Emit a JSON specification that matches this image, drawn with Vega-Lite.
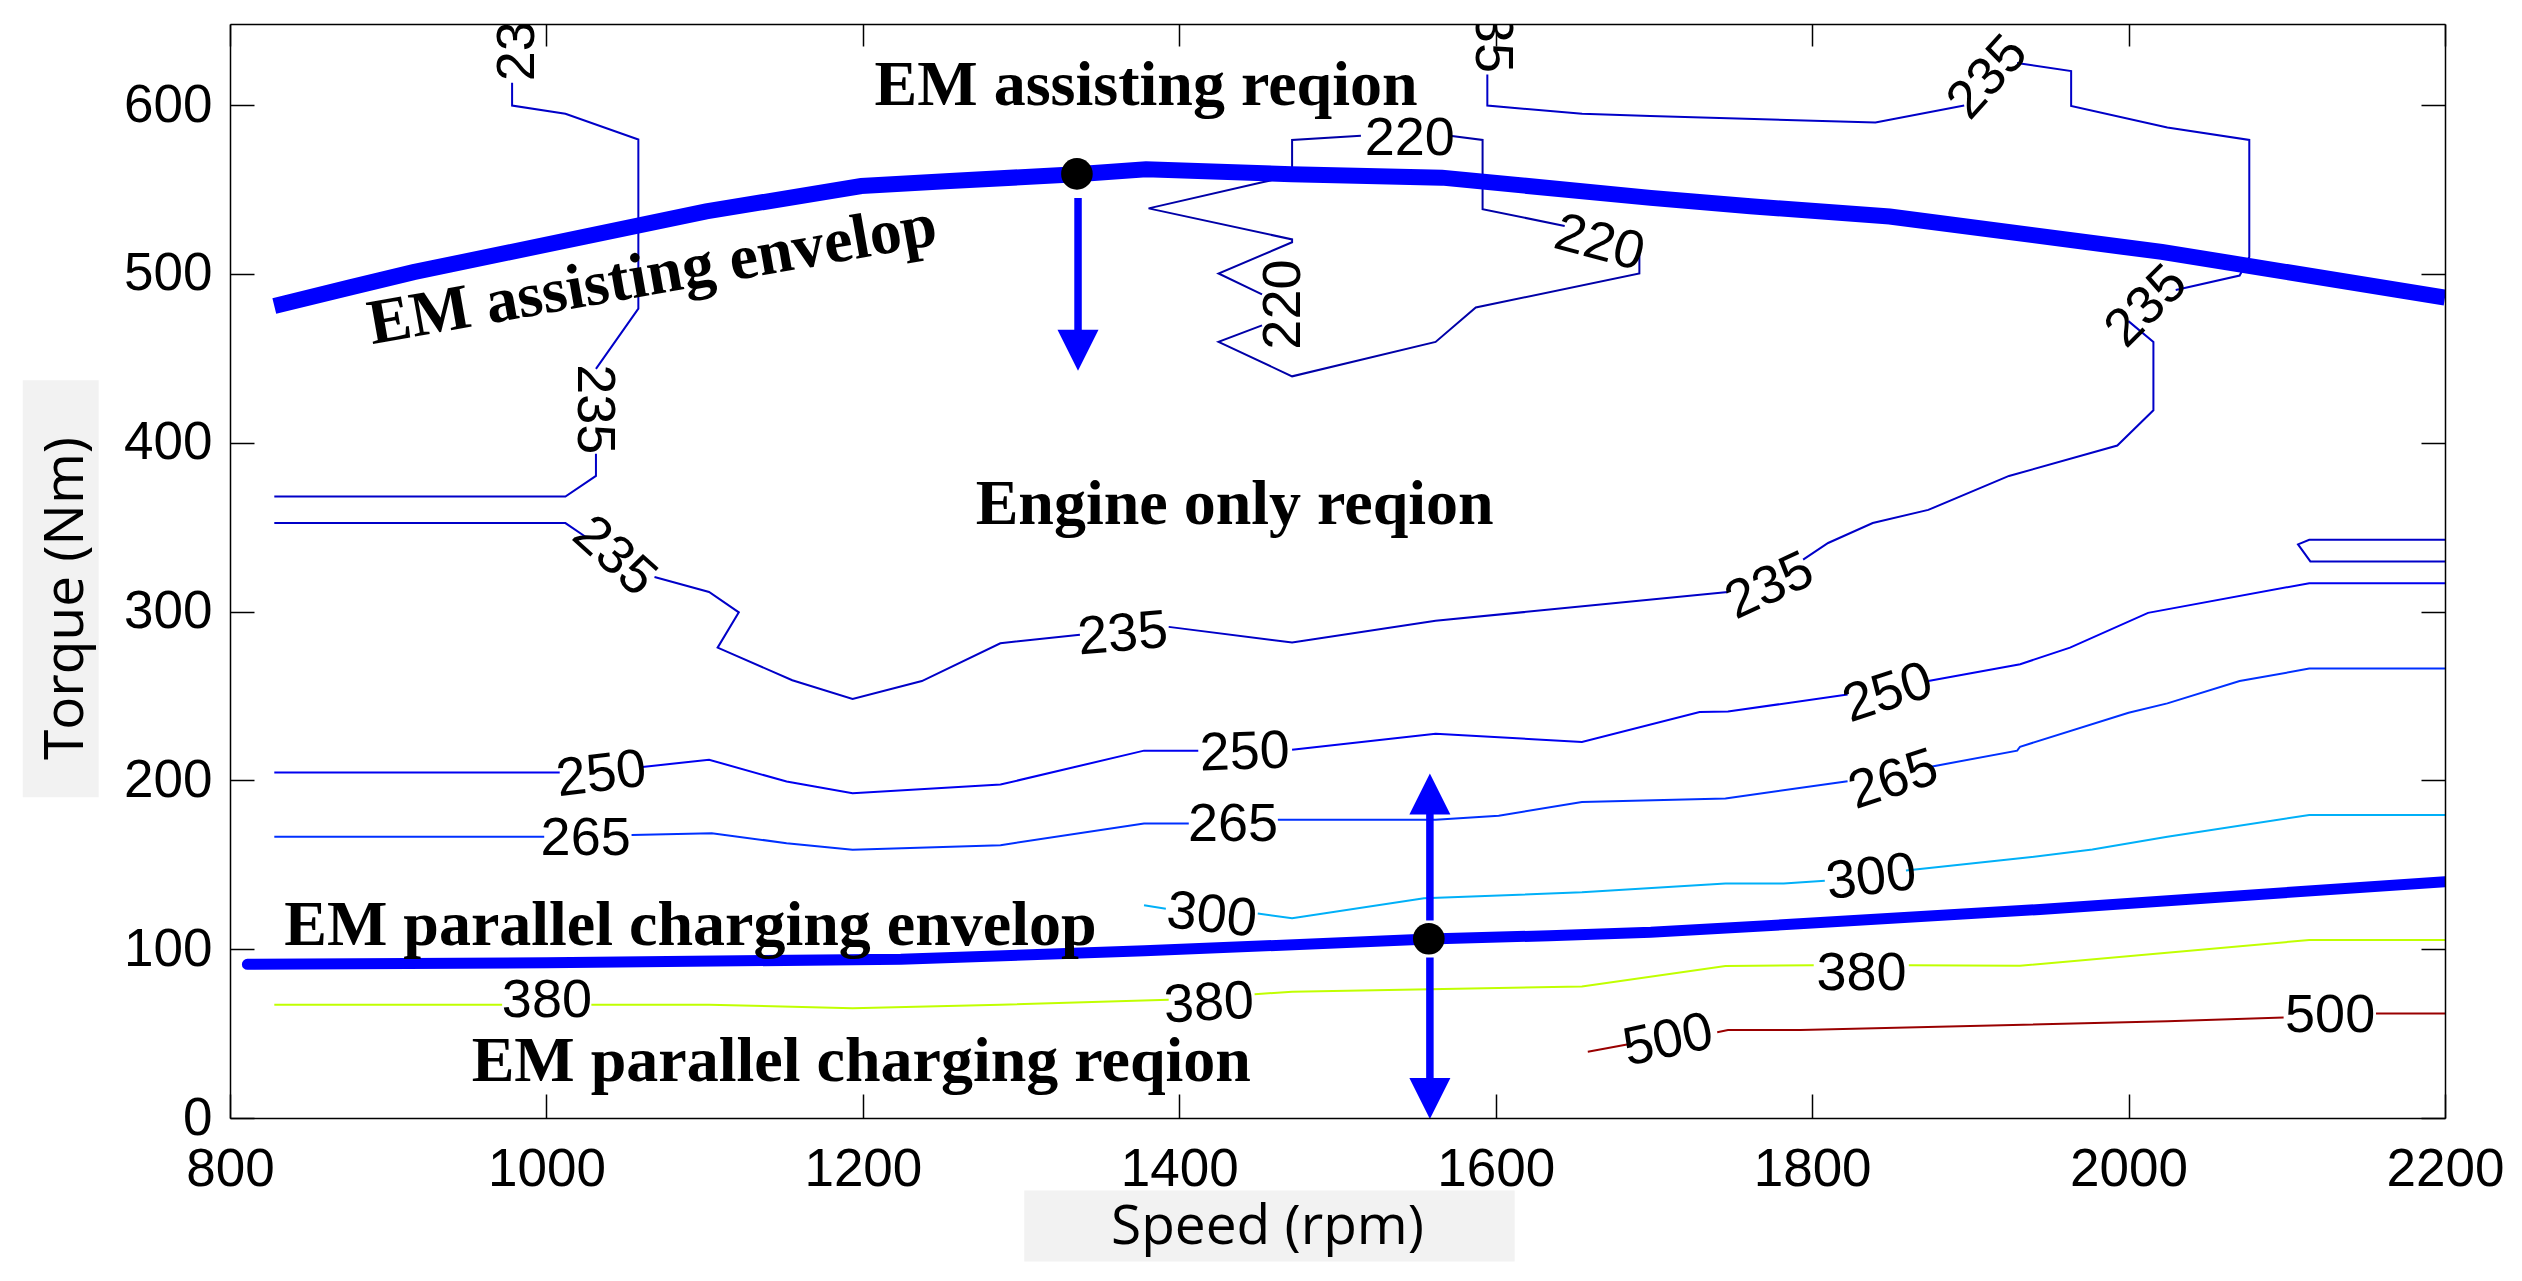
{
"$schema":"https://vega.github.io/schema/vega-lite/v6.json",
"width":2215,"height":1094,
"autosize":"none",
"padding":{"left":230,"top":24,"right":77,"bottom":163},
"background":"white",
"config":{"view":{"stroke":null},"axis":{"grid":false}},
"resolve":{"axis":{"x":"independent","y":"independent"}},
"datasets":{
"boxes":[{"x":669,"x2":717,"y":190,"y2":437},{"x":1302,"x2":1612,"y":-43,"y2":-85}],
"c":[
{"s":"220a","l":"220","o":1,"x":1571,"y":581.8},
{"s":"220a","l":"220","o":2,"x":1591.7,"y":579.3},
{"s":"220a","l":"220","o":3,"x":1591.7,"y":538.3},
{"s":"220a","l":"220","o":4,"x":1643.6,"y":528.4},
{"s":"220b","l":"220","o":1,"x":1690.8,"y":513.7},
{"s":"220b","l":"220","o":2,"x":1690.8,"y":500.2},
{"s":"220b","l":"220","o":3,"x":1587.4,"y":480.1},
{"s":"220b","l":"220","o":4,"x":1562,"y":459.7},
{"s":"220b","l":"220","o":5,"x":1471.3,"y":439.3},
{"s":"220b","l":"220","o":6,"x":1424.8,"y":459.7},
{"s":"220b","l":"220","o":7,"x":1452.3,"y":469.5},
{"s":"220c","l":"220","o":1,"x":1452.3,"y":487.9},
{"s":"220c","l":"220","o":2,"x":1424.8,"y":500.2},
{"s":"220c","l":"220","o":3,"x":1471.3,"y":518.7},
{"s":"220c","l":"220","o":4,"x":1471.3,"y":520.4},
{"s":"220c","l":"220","o":5,"x":1380.6,"y":538.8},
{"s":"220c","l":"220","o":6,"x":1452.5,"y":554.3},
{"s":"220c","l":"220","o":7,"x":1471.3,"y":558},
{"s":"220c","l":"220","o":8,"x":1471.3,"y":579.3},
{"s":"220c","l":"220","o":9,"x":1514.8,"y":581.8},
{"s":"235a","l":"235","o":1,"x":978.3,"y":613.2},
{"s":"235a","l":"235","o":2,"x":978.3,"y":599.7},
{"s":"235a","l":"235","o":3,"x":1012,"y":594.8},
{"s":"235a","l":"235","o":4,"x":1058.1,"y":579.6},
{"s":"235a","l":"235","o":5,"x":1058.1,"y":479.4},
{"s":"235a","l":"235","o":6,"x":1031.3,"y":443.7},
{"s":"235b","l":"235","o":1,"x":1031.3,"y":393.4},
{"s":"235b","l":"235","o":2,"x":1031.3,"y":380.3},
{"s":"235b","l":"235","o":3,"x":1012,"y":368.1},
{"s":"235b","l":"235","o":4,"x":828,"y":368.1},
{"s":"235c","l":"235","o":1,"x":828,"y":352.4},
{"s":"235c","l":"235","o":2,"x":1012,"y":352.4},
{"s":"235c","l":"235","o":3,"x":1024.7,"y":344.3},
{"s":"235d","l":"235","o":1,"x":1068.3,"y":320.4},
{"s":"235d","l":"235","o":2,"x":1102.8,"y":311.6},
{"s":"235d","l":"235","o":3,"x":1121.6,"y":299.5},
{"s":"235d","l":"235","o":4,"x":1108.2,"y":278.6},
{"s":"235d","l":"235","o":5,"x":1155.4,"y":259.3},
{"s":"235d","l":"235","o":6,"x":1193.5,"y":248.2},
{"s":"235d","l":"235","o":7,"x":1237.3,"y":258.8},
{"s":"235d","l":"235","o":8,"x":1286.9,"y":281.2},
{"s":"235d","l":"235","o":9,"x":1337.2,"y":286.3},
{"s":"235e","l":"235","o":1,"x":1393.3,"y":290.9},
{"s":"235e","l":"235","o":2,"x":1471.3,"y":281.6},
{"s":"235e","l":"235","o":3,"x":1562,"y":294.5},
{"s":"235e","l":"235","o":4,"x":1746.8,"y":311.6},
{"s":"235f","l":"235","o":1,"x":1794.3,"y":330.7},
{"s":"235f","l":"235","o":2,"x":1810.1,"y":340.6},
{"s":"235f","l":"235","o":3,"x":1838.3,"y":352.4},
{"s":"235f","l":"235","o":4,"x":1873.4,"y":360.2},
{"s":"235f","l":"235","o":5,"x":1924.4,"y":380.3},
{"s":"235f","l":"235","o":6,"x":1992.9,"y":398.3},
{"s":"235f","l":"235","o":7,"x":2015.7,"y":419.2},
{"s":"235f","l":"235","o":8,"x":2015.7,"y":459.7},
{"s":"235f","l":"235","o":9,"x":1999.9,"y":472},
{"s":"235g","l":"235","o":1,"x":2029.8,"y":490.4},
{"s":"235g","l":"235","o":2,"x":2070.2,"y":499},
{"s":"235g","l":"235","o":3,"x":2076.3,"y":510},
{"s":"235g","l":"235","o":4,"x":2076.3,"y":579.3},
{"s":"235g","l":"235","o":5,"x":2024.5,"y":586.7},
{"s":"235g","l":"235","o":6,"x":1963.7,"y":599.5},
{"s":"235g","l":"235","o":7,"x":1963.7,"y":620.1},
{"s":"235g","l":"235","o":8,"x":1929.5,"y":624.9},
{"s":"235h","l":"235","o":1,"x":1896.1,"y":599.7},
{"s":"235h","l":"235","o":2,"x":1840,"y":589.6},
{"s":"235h","l":"235","o":3,"x":1697.6,"y":593.5},
{"s":"235h","l":"235","o":4,"x":1654.6,"y":594.8},
{"s":"235h","l":"235","o":5,"x":1594.7,"y":599.7},
{"s":"235h","l":"235","o":6,"x":1594.7,"y":618.1},
{"s":"235i","l":"235","o":1,"x":2200,"y":342.5},
{"s":"235i","l":"235","o":2,"x":2114.2,"y":342.5},
{"s":"235i","l":"235","o":3,"x":2107.1,"y":339.8},
{"s":"235i","l":"235","o":4,"x":2114.9,"y":329.7},
{"s":"235i","l":"235","o":5,"x":2200,"y":329.7},
{"s":"250a","l":"250","o":1,"x":828,"y":204.7},
{"s":"250a","l":"250","o":2,"x":1008.4,"y":204.7},
{"s":"250b","l":"250","o":1,"x":1059.2,"y":207.8},
{"s":"250b","l":"250","o":2,"x":1102.8,"y":212.2},
{"s":"250b","l":"250","o":3,"x":1151.8,"y":199.3},
{"s":"250b","l":"250","o":4,"x":1193.5,"y":192.4},
{"s":"250b","l":"250","o":5,"x":1287,"y":197.5},
{"s":"250b","l":"250","o":6,"x":1377.7,"y":217.6},
{"s":"250b","l":"250","o":7,"x":1412,"y":217.6},
{"s":"250c","l":"250","o":1,"x":1471.3,"y":218.1},
{"s":"250c","l":"250","o":2,"x":1562,"y":227.6},
{"s":"250c","l":"250","o":3,"x":1654.5,"y":222.7},
{"s":"250c","l":"250","o":4,"x":1728.9,"y":240.5},
{"s":"250c","l":"250","o":5,"x":1746.8,"y":240.8},
{"s":"250c","l":"250","o":6,"x":1822.4,"y":250.8},
{"s":"250d","l":"250","o":1,"x":1873.4,"y":258.8},
{"s":"250d","l":"250","o":2,"x":1931.5,"y":268.8},
{"s":"250d","l":"250","o":3,"x":1963,"y":278.6},
{"s":"250d","l":"250","o":4,"x":2012.3,"y":299.2},
{"s":"250d","l":"250","o":5,"x":2114.2,"y":316.8},
{"s":"250d","l":"250","o":6,"x":2200,"y":316.8},
{"s":"265a","l":"265","o":1,"x":828,"y":166.6},
{"s":"265a","l":"265","o":2,"x":998.6,"y":166.6},
{"s":"265b","l":"265","o":1,"x":1053.8,"y":167.6},
{"s":"265b","l":"265","o":2,"x":1104.5,"y":168.7},
{"s":"265b","l":"265","o":3,"x":1151.8,"y":162.8},
{"s":"265b","l":"265","o":4,"x":1193.5,"y":158.9},
{"s":"265b","l":"265","o":5,"x":1287,"y":161.6},
{"s":"265b","l":"265","o":6,"x":1377.7,"y":174.4},
{"s":"265b","l":"265","o":7,"x":1406,"y":174.4},
{"s":"265c","l":"265","o":1,"x":1462.3,"y":176.6},
{"s":"265c","l":"265","o":2,"x":1562,"y":176.6},
{"s":"265c","l":"265","o":3,"x":1601.9,"y":179},
{"s":"265c","l":"265","o":4,"x":1654.5,"y":187.2},
{"s":"265c","l":"265","o":5,"x":1745.2,"y":189.3},
{"s":"265c","l":"265","o":6,"x":1822.4,"y":199.4},
{"s":"265d","l":"265","o":1,"x":1873.4,"y":207.8},
{"s":"265d","l":"265","o":2,"x":1929.6,"y":217.6},
{"s":"265d","l":"265","o":3,"x":1931.4,"y":219.9},
{"s":"265d","l":"265","o":4,"x":2000,"y":240},
{"s":"265d","l":"265","o":5,"x":2024.5,"y":245.6},
{"s":"265d","l":"265","o":6,"x":2070.2,"y":258.8},
{"s":"265d","l":"265","o":7,"x":2114.2,"y":266.2},
{"s":"265d","l":"265","o":8,"x":2200,"y":266.2},
{"s":"300a","l":"300","o":1,"x":1377.7,"y":126},
{"s":"300a","l":"300","o":2,"x":1391.5,"y":124},
{"s":"300b","l":"300","o":1,"x":1449.6,"y":121.1},
{"s":"300b","l":"300","o":2,"x":1471.3,"y":118.3},
{"s":"300b","l":"300","o":3,"x":1554.7,"y":130.1},
{"s":"300b","l":"300","o":4,"x":1654.5,"y":133.7},
{"s":"300b","l":"300","o":5,"x":1745.2,"y":138.9},
{"s":"300b","l":"300","o":6,"x":1782,"y":138.9},
{"s":"300b","l":"300","o":7,"x":1808,"y":140.5},
{"s":"300c","l":"300","o":1,"x":1859.3,"y":146.6},
{"s":"300c","l":"300","o":2,"x":1931.4,"y":153.8},
{"s":"300c","l":"300","o":3,"x":1977.1,"y":159},
{"s":"300c","l":"300","o":4,"x":2024.5,"y":166.6},
{"s":"300c","l":"300","o":5,"x":2114.2,"y":179.5},
{"s":"300c","l":"300","o":6,"x":2200,"y":179.5},
{"s":"380a","l":"380","o":1,"x":828,"y":67.1},
{"s":"380a","l":"380","o":2,"x":972,"y":67.1},
{"s":"380b","l":"380","o":1,"x":1028.4,"y":67.1},
{"s":"380b","l":"380","o":2,"x":1102.8,"y":67.1},
{"s":"380b","l":"380","o":3,"x":1193.5,"y":65},
{"s":"380b","l":"380","o":4,"x":1287,"y":67.1},
{"s":"380b","l":"380","o":5,"x":1393.3,"y":70.1},
{"s":"380c","l":"380","o":1,"x":1447.6,"y":73.3},
{"s":"380c","l":"380","o":2,"x":1471.3,"y":74.8},
{"s":"380c","l":"380","o":3,"x":1654.5,"y":77.9},
{"s":"380c","l":"380","o":4,"x":1745.2,"y":90},
{"s":"380c","l":"380","o":5,"x":1801,"y":90.5},
{"s":"380d","l":"380","o":1,"x":1861.1,"y":90.5},
{"s":"380d","l":"380","o":2,"x":1931.4,"y":90.2},
{"s":"380d","l":"380","o":3,"x":2114.2,"y":105.4},
{"s":"380d","l":"380","o":4,"x":2200,"y":105.4},
{"s":"500a","l":"500","o":1,"x":1658.2,"y":39.3},
{"s":"500a","l":"500","o":2,"x":1683,"y":43.5},
{"s":"500b","l":"500","o":1,"x":1740,"y":50.8},
{"s":"500b","l":"500","o":2,"x":1746.8,"y":52.1},
{"s":"500b","l":"500","o":3,"x":1792.6,"y":52.1},
{"s":"500b","l":"500","o":4,"x":2024.5,"y":57.3},
{"s":"500b","l":"500","o":5,"x":2098,"y":59.5},
{"s":"500c","l":"500","o":1,"x":2156.4,"y":61.9},
{"s":"500c","l":"500","o":2,"x":2200,"y":61.9}
],
"up":[
{"o":1,"x":828,"y":481},{"o":2,"x":876,"y":492},{"o":3,"x":916,"y":501},{"o":4,"x":1101,"y":537},{"o":5,"x":1199,"y":552},{"o":6,"x":1255,"y":555},{"o":7,"x":1335,"y":559},{"o":8,"x":1379,"y":562},{"o":9,"x":1471,"y":559},{"o":10,"x":1566,"y":557},{"o":11,"x":1698,"y":545},{"o":12,"x":1761,"y":540},{"o":13,"x":1849,"y":534},{"o":14,"x":2021,"y":513},{"o":15,"x":2200,"y":486}
],
"lo":[
{"o":1,"x":811,"y":91},{"o":2,"x":1000,"y":92},{"o":3,"x":1224,"y":94},{"o":4,"x":1378,"y":99},{"o":5,"x":1558,"y":106},{"o":6,"x":1634,"y":108},{"o":7,"x":1698,"y":110},{"o":8,"x":1792,"y":115},{"o":9,"x":1944,"y":123.5},{"o":10,"x":2200,"y":140}
],
"shafts":[{"x":1336,"y":545,"y2":458},{"x":1558.4,"y":117,"y2":186},{"x":1558.4,"y":95,"y2":16}],
"heads":[{"x":1336,"y":454.7,"sh":"M-1,-1L1,-1L0,1Z"},{"x":1558.4,"y":191.9,"sh":"M-1,1L1,1L0,-1Z"},{"x":1558.4,"y":11.6,"sh":"M-1,-1L1,-1L0,1Z"}],
"dots":[{"x":1335.3,"y":559.2},{"x":1557.7,"y":106.2}],
"labels":[
{"t":"235","x":982,"y":640.7,"a":-90},
{"t":"235","x":1597.4,"y":645.7,"a":90},
{"t":"235","x":1030.1,"y":419.8,"a":90},
{"t":"235","x":1042.9,"y":332.6,"a":42},
{"t":"235","x":1364.3,"y":286.3,"a":-5},
{"t":"235","x":1773.2,"y":314.8,"a":-25},
{"t":"235","x":2011.4,"y":480.6,"a":-45},
{"t":"235","x":1911.1,"y":616.3,"a":-48},
{"t":"220","x":1545.7,"y":580,"a":0},
{"t":"220","x":1665.5,"y":518,"a":15},
{"t":"220","x":1466.5,"y":481.8,"a":-90},
{"t":"250","x":1034.7,"y":203.3,"a":-7},
{"t":"250","x":1441.4,"y":216.2,"a":-2},
{"t":"250","x":1847.9,"y":251.5,"a":-18},
{"t":"265","x":1024.8,"y":165.4,"a":0},
{"t":"265","x":1434,"y":173.8,"a":0},
{"t":"265","x":1851.4,"y":200.1,"a":-18},
{"t":"300","x":1420.5,"y":119.7,"a":6},
{"t":"300","x":1837.4,"y":142.2,"a":-7},
{"t":"380","x":1000.3,"y":69.5,"a":0},
{"t":"380","x":1418.7,"y":67.5,"a":-3},
{"t":"380","x":1831.2,"y":85,"a":0},
{"t":"500","x":1709,"y":45.7,"a":-12},
{"t":"500","x":2127.4,"y":60.5,"a":0}
],
"regions":[
{"t":"EM assisting reqion","x":1379,"y":600,"a":0},
{"t":"Engine only reqion","x":1435,"y":351.6,"a":0},
{"t":"EM assisting envelop","x":1069,"y":488,"a":-10},
{"t":"EM parallel charging envelop","x":1091,"y":102.5,"a":0},
{"t":"EM parallel charging reqion","x":1199,"y":21.9,"a":0}
]
},
"layer":[
{"data":{"name":"boxes"},"mark":{"type":"rect","color":"#f2f2f2"},
 "encoding":{
  "x":{"field":"x","type":"quantitative","scale":{"domain":[800,2200],"nice":false,"zero":false},"axis":null},
  "x2":{"field":"x2"},
  "y":{"field":"y","type":"quantitative","scale":{"domain":[0,648],"nice":false,"zero":false},"axis":null},
  "y2":{"field":"y2"}}},
{"data":{"name":"c"},"mark":{"type":"line","strokeWidth":2,"clip":true},
 "encoding":{
  "x":{"field":"x","type":"quantitative","scale":{"domain":[800,2200],"nice":false,"zero":false},
   "axis":{"orient":"bottom","values":[800,1000,1200,1400,1600,1800,2000,2200],"format":"d","title":"Speed (rpm)","titleFont":"Open Sans","titleFontSize":55,"titleFontWeight":"normal","titleColor":"black","titleX":1037,"titleY":125,"titleBaseline":"alphabetic","titleAlign":"center","labelFont":"Liberation Sans","labelFontSize":53,"labelColor":"black","labelPadding":49,"labelFlush":false,"labelOverlap":false,"labelBound":false,"tickSize":-24,"tickColor":"black","tickWidth":1.5,"domainColor":"black","domainWidth":1.5,"zindex":1}},
  "y":{"field":"y","type":"quantitative","scale":{"domain":[0,648],"nice":false,"zero":false},
   "axis":{"orient":"left","values":[0,100,200,300,400,500,600],"format":"d","title":"Torque (Nm)","titleFont":"Open Sans","titleFontSize":55,"titleFontWeight":"normal","titleColor":"black","titleAngle":270,"titleX":-148,"titleY":574,"titleBaseline":"alphabetic","titleAlign":"center","labelFont":"Liberation Sans","labelFontSize":53,"labelColor":"black","labelPadding":42,"labelOverlap":false,"labelBound":false,"tickSize":-24,"tickColor":"black","tickWidth":1.5,"domainColor":"black","domainWidth":1.5,"zindex":1}},
  "detail":{"field":"s","type":"nominal"},
  "order":{"field":"o","type":"quantitative"},
  "color":{"field":"l","type":"nominal","scale":{"domain":["220","235","250","265","300","380","500"],"range":["#0000a8","#0000c8","#0000f0","#0030ff","#00b0f8","#c0ff00","#990000"]},"legend":null}}},
{"data":{"name":"up"},"mark":{"type":"line","strokeWidth":16,"color":"#0000ff","strokeCap":"butt","clip":true},
 "encoding":{
  "x":{"field":"x","type":"quantitative","scale":{"domain":[800,2200],"nice":false,"zero":false},
   "axis":{"orient":"top","values":[800,1000,1200,1400,1600,1800,2000,2200],"labels":false,"title":null,"tickSize":-22,"tickColor":"black","tickWidth":1.5,"domainColor":"black","domainWidth":1.5,"zindex":1}},
  "y":{"field":"y","type":"quantitative","scale":{"domain":[0,648],"nice":false,"zero":false},
   "axis":{"orient":"right","values":[0,100,200,300,400,500,600],"labels":false,"title":null,"tickSize":-24,"tickColor":"black","tickWidth":1.5,"domainColor":"black","domainWidth":1.5,"zindex":1}},
  "order":{"field":"o","type":"quantitative"}}},
{"data":{"name":"lo"},"mark":{"type":"line","strokeWidth":11,"color":"#0000ff","strokeCap":"round","clip":true},
 "encoding":{
  "x":{"field":"x","type":"quantitative","scale":{"domain":[800,2200],"nice":false,"zero":false},"axis":null},
  "y":{"field":"y","type":"quantitative","scale":{"domain":[0,648],"nice":false,"zero":false},"axis":null},
  "order":{"field":"o","type":"quantitative"}}},
{"data":{"name":"shafts"},"mark":{"type":"rule","strokeWidth":7.5,"color":"#0000ff"},
 "encoding":{
  "x":{"field":"x","type":"quantitative","scale":{"domain":[800,2200],"nice":false,"zero":false},"axis":null},
  "y":{"field":"y","type":"quantitative","scale":{"domain":[0,648],"nice":false,"zero":false},"axis":null},
  "y2":{"field":"y2"}}},
{"data":{"name":"heads"},"mark":{"type":"point","filled":true,"color":"#0000ff","opacity":1,"size":1681,"strokeWidth":0},
 "encoding":{
  "x":{"field":"x","type":"quantitative","scale":{"domain":[800,2200],"nice":false,"zero":false},"axis":null},
  "y":{"field":"y","type":"quantitative","scale":{"domain":[0,648],"nice":false,"zero":false},"axis":null},
  "shape":{"field":"sh","type":"nominal","scale":null,"legend":null}}},
{"data":{"name":"dots"},"mark":{"type":"point","shape":"circle","filled":true,"color":"black","opacity":1,"size":1000},
 "encoding":{
  "x":{"field":"x","type":"quantitative","scale":{"domain":[800,2200],"nice":false,"zero":false},"axis":null},
  "y":{"field":"y","type":"quantitative","scale":{"domain":[0,648],"nice":false,"zero":false},"axis":null}}},
{"data":{"name":"labels"},"mark":{"type":"text","font":"Liberation Sans","fontSize":54,"color":"black","align":"center","baseline":"middle","clip":true},
 "encoding":{
  "x":{"field":"x","type":"quantitative","scale":{"domain":[800,2200],"nice":false,"zero":false},"axis":null},
  "y":{"field":"y","type":"quantitative","scale":{"domain":[0,648],"nice":false,"zero":false},"axis":null},
  "text":{"field":"t","type":"nominal"},
  "angle":{"field":"a","type":"quantitative","scale":null}}},
{"data":{"name":"regions"},"mark":{"type":"text","font":"Liberation Serif","fontWeight":"bold","fontSize":64,"color":"black","align":"center","baseline":"alphabetic"},
 "encoding":{
  "x":{"field":"x","type":"quantitative","scale":{"domain":[800,2200],"nice":false,"zero":false},"axis":null},
  "y":{"field":"y","type":"quantitative","scale":{"domain":[0,648],"nice":false,"zero":false},"axis":null},
  "text":{"field":"t","type":"nominal"},
  "angle":{"field":"a","type":"quantitative","scale":null}}}
]
}
